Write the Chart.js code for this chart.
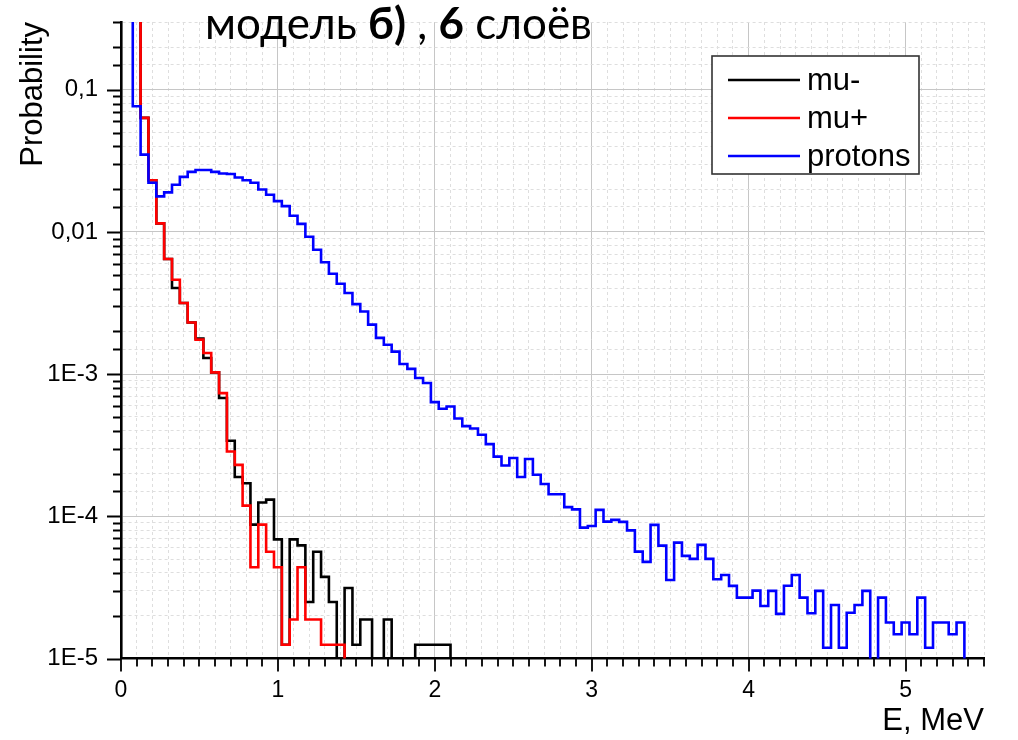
<!DOCTYPE html>
<html>
<head>
<meta charset="utf-8">
<script src="https://cdn.jsdelivr.net/npm/chart.js@4.4.1/dist/chart.umd.min.js"></script>
<style>
  html, body { margin: 0; padding: 0; background: #fff; }
  #wrap { position: relative; width: 1018px; height: 740px; }
</style>
</head>
<body>
<div id="wrap"><canvas id="chart"></canvas></div>
<script>
// Histogram bins: centres every 0.05 MeV
const binStep = 0.05;
const protonStart = 0.05;
const muonStart = 0.10;

// protons, 0.05 ... 5.40 MeV (first bin runs off the top of the plot)
const protons = [
  1, 0.0766, 0.0350, 0.0222, 0.0178, 0.0190, 0.0215, 0.0244, 0.0265, 0.0273,
  0.0273, 0.0265, 0.0258, 0.0256, 0.0242, 0.0231, 0.0222, 0.0199, 0.0183, 0.0165,
  0.0152, 0.0130, 0.0114, 0.00927, 0.00751, 0.00613, 0.00509, 0.00433, 0.00372, 0.00311,
  0.00276, 0.00223, 0.00180, 0.00161, 0.00144, 0.00118, 0.00109, 0.000939, 0.000866, 0.000636,
  0.000571, 0.000592, 0.000488, 0.000431, 0.000415, 0.000375, 0.000322, 0.000263, 0.000228, 0.000257,
  0.000189, 0.000253, 0.000196, 0.000169, 0.000143, 0.000143, 0.000116, 0.000112, 8.33e-5, 8.56e-5,
  1.11e-4, 9.18e-5, 9.44e-5, 9.14e-5, 7.96e-5, 5.65e-5, 4.78e-5, 8.71e-5, 6.22e-5, 3.57e-5,
  6.53e-5, 5.27e-5, 5.02e-5, 6.30e-5, 5.02e-5, 3.61e-5, 3.87e-5, 3.24e-5, 2.68e-5, 2.68e-5,
  3.00e-5, 2.34e-5, 2.99e-5, 2.06e-5, 3.25e-5, 3.87e-5, 2.68e-5, 2.08e-5, 2.99e-5, 1.19e-5,
  2.38e-5, 1.19e-5, 2.10e-5, 2.38e-5, 2.99e-5, 3.0e-6, 2.68e-5, 1.79e-5, 1.48e-5, 1.79e-5,
  1.48e-5, 2.68e-5, 1.19e-5, 1.79e-5, 1.79e-5, 1.48e-5, 1.79e-5, 3.0e-6
];

// mu-, 0.10 ... 2.20 MeV (null = empty bin)
const muMinus = [
  1, 0.0635, 0.0231, 0.0115, 0.00646, 0.00404, 0.00317, 0.00231, 0.00178, 0.00130,
  0.00103, 0.000679, 0.000340, 0.000189, 0.000171, 8.75e-5, 1.25e-4, 1.31e-4, 6.88e-5, 1.25e-5,
  6.88e-5, 6.25e-5, 2.5e-5, 5.63e-5, 3.75e-5, 2.5e-5, 6.25e-6, 3.13e-5, 1.25e-5, 1.88e-5,
  null, 6.25e-6, 1.88e-5, 6.25e-6, 6.25e-6, 6.25e-6, 1.25e-5, 1.25e-5, 1.25e-5, null,
  null, null, 6.25e-6
];

// mu+, 0.10 ... 1.45 MeV
const muPlus = [
  1, 0.0635, 0.0231, 0.0115, 0.00646, 0.00462, 0.00317, 0.00231, 0.00175, 0.00141,
  0.00103, 0.000736, 0.000286, 0.000230, 0.000119, 4.38e-5, 8.75e-5, 5.63e-5, 4.38e-5, 1.25e-5,
  1.88e-5, 4.38e-5, 1.88e-5, 1.88e-5, 1.25e-5, 1.25e-5, 1.25e-5, 6.25e-6
];

const yTickValues = [1e-5, 1e-4, 1e-3, 0.01, 0.1];
const yTickLabels = ['1E-5', '1E-4', '1E-3', '0,01', '0,1'];
const xTickLabels = ['0', '1', '2', '3', '4', '5'];

// bins -> {x, y} points, empty bins dropped
function toPoints(values, start) {
  const pts = [];
  values.forEach((v, i) => {
    if (v === null) return;
    pts.push({ x: Math.round((start + i * binStep) * 100) / 100, y: v });
  });
  return pts;
}

const isInt = v => Math.abs(v - Math.round(v)) < 1e-6;
const isDecade = v => Math.abs(Math.log10(v) - Math.round(Math.log10(v))) < 1e-6;

const majorGrid = '#c6c6c6';
const minorGrid = '#dedede';
const axisFont = 'Liberation Sans, Arial, sans-serif';

// title, legend box and tick marks
const decor = {
  id: 'decor',
  afterDatasetsDraw(chart) {
    const ctx = chart.ctx;
    const xs = chart.scales.x, ys = chart.scales.y;
    ctx.save();
    ctx.strokeStyle = '#000';
    ctx.lineWidth = 1.8;
    ctx.beginPath();
    ys.ticks.forEach(t => {
      const p = Math.round(ys.getPixelForValue(t.value)) + 0.5;
      ctx.moveTo(ys.right, p);
      ctx.lineTo(ys.right - (isDecade(t.value) ? 14 : 8), p);
    });
    xs.ticks.forEach(t => {
      const p = Math.round(xs.getPixelForValue(t.value));
      ctx.moveTo(p, xs.top);
      ctx.lineTo(p, xs.top + (isInt(t.value) ? 13 : 8));
    });
    ctx.stroke();
    ctx.restore();
  },
  afterDraw(chart) {
    const ctx = chart.ctx;
    ctx.save();

    // title with bold parts
    const parts = [['модель ', false], ['б)', true], [' , ', false], ['6', true], [' слоёв', false]];
    const fam = 'Lato, "Open Sans", sans-serif';
    let size = 40;
    const measure = s => parts.reduce((w, p) => {
      ctx.font = (p[1] ? 'bold ' : '') + s + 'px ' + fam;
      return w + ctx.measureText(p[0]).width;
    }, 0);
    size = size * 387 / measure(size);
    let tx = 205;
    ctx.fillStyle = '#000';
    ctx.textBaseline = 'alphabetic';
    parts.forEach(p => {
      ctx.font = (p[1] ? 'bold ' : '') + size + 'px ' + fam;
      ctx.fillText(p[0], tx, 38.5);
      tx += ctx.measureText(p[0]).width;
    });

    // legend
    const box = { x: 712, y: 56, w: 207, h: 118 };
    ctx.fillStyle = '#fff';
    ctx.fillRect(box.x, box.y, box.w, box.h);
    ctx.strokeStyle = '#333';
    ctx.lineWidth = 1.6;
    ctx.strokeRect(box.x, box.y, box.w, box.h);
    ctx.font = '31px ' + axisFont;
    ctx.textBaseline = 'middle';
    chart.data.datasets.forEach((ds, i) => {
      const ly = 80 + i * 38;
      ctx.strokeStyle = ds.borderColor;
      ctx.lineWidth = 2.6;
      ctx.beginPath();
      ctx.moveTo(728, ly);
      ctx.lineTo(800, ly);
      ctx.stroke();
      ctx.fillStyle = '#000';
      ctx.fillText(ds.label, 807, ly + 1);
    });
    ctx.restore();
  }
};

new Chart(document.getElementById('chart'), {
  type: 'line',
  data: {
    datasets: [
      { label: 'mu-', data: toPoints(muMinus, muonStart), borderColor: '#000000', order: 3 },
      { label: 'mu+', data: toPoints(muPlus, muonStart), borderColor: '#ff0000', order: 2 },
      { label: 'protons', data: toPoints(protons, protonStart), borderColor: '#0000ff', order: 1 }
    ]
  },
  options: {
    responsive: true,
    maintainAspectRatio: false,
    animation: false,
    events: [],
    layout: { padding: { left: 0, top: 22, right: 34, bottom: 0 } },
    elements: {
      line: { borderWidth: 2.6, stepped: 'middle', fill: false, tension: 0 },
      point: { radius: 0 }
    },
    plugins: {
      legend: { display: false },
      tooltip: { enabled: false },
      title: { display: false }
    },
    scales: {
      x: {
        type: 'linear',
        min: 0,
        max: 5.5,
        afterFit(scale) {
          scale.height = 81.5;
          scale.paddingLeft = 0;
          scale.paddingRight = 0;
        },
        grid: {
          drawTicks: false,
          lineWidth: 1,
          color: c => (c.tick && isInt(c.tick.value)) ? majorGrid : minorGrid
        },
        border: {
          color: '#000',
          width: 2.6,
          dash: c => (c.tick && !isInt(c.tick.value)) ? [3, 3] : []
        },
        ticks: {
          stepSize: 0.1,
          autoSkip: false,
          maxRotation: 0,
          padding: 18,
          color: '#000',
          font: { family: axisFont, size: 23 },
          callback: v => isInt(v) ? xTickLabels[Math.round(v)] : ''
        },
        title: {
          display: true,
          text: 'E, MeV',
          align: 'end',
          color: '#000',
          font: { family: axisFont, size: 31 },
          padding: { top: 0, bottom: 0 }
        }
      },
      y: {
        type: 'logarithmic',
        min: 1e-5,
        max: 0.3,
        afterFit(scale) {
          scale.width = 121;
          scale.paddingTop = 0;
          scale.paddingBottom = 0;
        },
        grid: {
          drawTicks: false,
          lineWidth: 1,
          color: c => (c.tick && isDecade(c.tick.value)) ? majorGrid : minorGrid
        },
        border: {
          color: '#000',
          width: 2.6,
          dash: c => (c.tick && !isDecade(c.tick.value)) ? [3, 3] : []
        },
        ticks: {
          autoSkip: false,
          padding: 23,
          color: '#000',
          font: { family: axisFont, size: 24 },
          callback: v => {
            const k = yTickValues.findIndex(t => Math.abs(Math.log10(t) - Math.log10(v)) < 1e-6);
            return k >= 0 ? yTickLabels[k] : '';
          }
        },
        title: {
          display: true,
          text: 'Probability',
          align: 'end',
          color: '#000',
          font: { family: axisFont, size: 31 },
          padding: { top: 15, bottom: 0 }
        }
      }
    }
  },
  plugins: [decor]
});
</script>
</body>
</html>
